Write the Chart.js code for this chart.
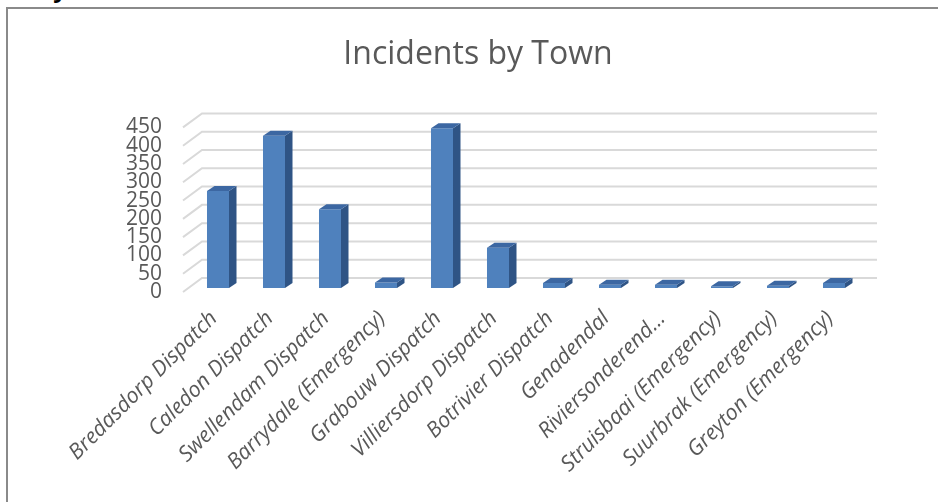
<!DOCTYPE html>
<html>
<head>
<meta charset="utf-8">
<script src="https://cdn.jsdelivr.net/npm/chart.js@4.4.1/dist/chart.umd.min.js"></script>
<style>
    html, body { margin: 0; padding: 0; background: #fff; overflow: hidden; width: 938px; height: 502px; }
    #heading { position: absolute; left: -79px; top: -29px; font: bold 24px 'Open Sans', sans-serif; color: #000; white-space: nowrap; }
    #frame { position: absolute; left: 6px; top: 7px; width: 980px; height: 540px; border-left: 2px solid #8a8a8a; border-top: 2px solid #8a8a8a; }
    #chart { position: absolute; left: 0; top: 0; }
</style>
</head>
<body>
<div id="heading">Incidents by Town</div>
<div id="frame"></div>
<canvas id="chart" width="956" height="502"></canvas>
<script>
// --- data ---
const towns = [
    'Bredasdorp Dispatch', 'Caledon Dispatch', 'Swellendam Dispatch', 'Barrydale (Emergency)',
    'Grabouw Dispatch', 'Villiersdorp Dispatch', 'Botrivier Dispatch', 'Genadendal',
    'Riviersonderend…', 'Struisbaai (Emergency)', 'Suurbrak (Emergency)', 'Greyton (Emergency)'
];
const incidents = [265, 416, 215, 15, 437, 110, 14, 9, 9, 5, 6, 14];
const yMin = 0;
const yMax = 450;
const yStep = 50;

// --- look ---
const FRONT = '#4f81bd';
const SIDE = '#2f5485';
const TOP = '#3c67a2';
const GRID = '#d9d9d9';
const TEXT = '#595959';

// fake 3D depth (pixels)
const bar3d = { dx: 7.5, dy: -5 };
const wall = { frontDx: -7, frontDy: 4, backDx: 12, backDy: -10, rightDx: 15 };

const threeD = {
    id: 'threeD',
    beforeDatasetsDraw(chart) {
        const { ctx, chartArea, scales: { y } } = chart;
        ctx.save();
        ctx.strokeStyle = GRID;
        ctx.lineWidth = 2;
        y.ticks.forEach(t => {
            const py = y.getPixelForValue(t.value);
            ctx.beginPath();
            ctx.moveTo(chartArea.left + wall.frontDx, py + wall.frontDy);
            ctx.lineTo(chartArea.left + wall.backDx, py + wall.backDy);
            ctx.lineTo(chartArea.right + wall.rightDx, py + wall.backDy);
            ctx.stroke();
        });
        ctx.restore();
    },
    afterDatasetsDraw(chart) {
        const { ctx } = chart;
        const { dx, dy } = bar3d;
        ctx.save();
        chart.getDatasetMeta(0).data.forEach(bar => {
            const { x, y, base, width } = bar.getProps(['x', 'y', 'base', 'width'], true);
            const l = x - width / 2;
            const r = x + width / 2;
            // side face
            ctx.fillStyle = SIDE;
            ctx.beginPath();
            ctx.moveTo(r, y);
            ctx.lineTo(r + dx, y + dy);
            ctx.lineTo(r + dx, base + dy);
            ctx.lineTo(r, base);
            ctx.closePath();
            ctx.fill();
            // top face
            ctx.fillStyle = TOP;
            ctx.beginPath();
            ctx.moveTo(l, y);
            ctx.lineTo(l + dx, y + dy);
            ctx.lineTo(r + dx, y + dy);
            ctx.lineTo(r, y);
            ctx.closePath();
            ctx.fill();
        });
        ctx.restore();
    }
};

new Chart(document.getElementById('chart').getContext('2d'), {
    type: 'bar',
    data: {
        labels: towns,
        datasets: [{
            label: 'Incidents',
            data: incidents,
            backgroundColor: FRONT,
            borderWidth: 0,
            barPercentage: 0.393,
            categoryPercentage: 1
        }]
    },
    options: {
        responsive: false,
        animation: false,
        layout: {
            padding: { left: 94, right: 94, top: 0, bottom: 0 }
        },
        plugins: {
            legend: { display: false },
            tooltip: { enabled: false },
            title: {
                display: true,
                text: 'Incidents by Town',
                color: TEXT,
                font: { family: 'Open Sans', size: 32, weight: 'normal' },
                padding: { top: 36, bottom: 49 }
            }
        },
        scales: {
            x: {
                border: { display: false },
                grid: { display: false, drawTicks: false, tickLength: 0 },
                ticks: {
                    color: TEXT,
                    font: { family: 'Open Sans', size: 21.5, style: 'italic' },
                    autoSkip: false,
                    minRotation: 45,
                    maxRotation: 45,
                    padding: 18,
                    labelOffset: -4
                },
                afterFit(scale) { scale.height = 214; }
            },
            y: {
                min: yMin,
                max: yMax,
                border: { display: false },
                grid: { display: false, drawTicks: false, tickLength: 0 },
                ticks: {
                    stepSize: yStep,
                    autoSkip: false,
                    color: TEXT,
                    font: { family: 'Open Sans', size: 21 },
                    padding: 28,
                    labelOffset: 4
                },
                afterFit(scale) { scale.width = 96; }
            }
        }
    },
    plugins: [threeD]
});
</script>
</body>
</html>
